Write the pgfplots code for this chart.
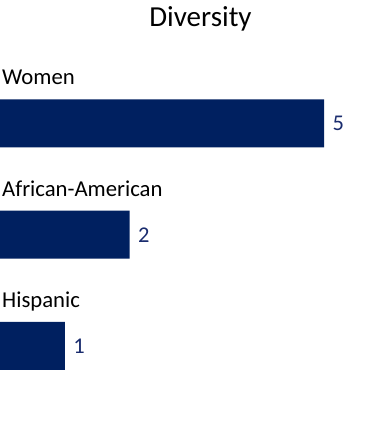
\documentclass[border=0pt]{standalone}
\usepackage{pgfplots}
\pgfplotsset{compat=1.18}
\usepackage{fontspec}
\setmainfont{Carlito}
\definecolor{navy}{RGB}{0,32,96}
\definecolor{vallab}{RGB}{26,44,110}
\begin{document}
\begin{tikzpicture}
\useasboundingbox[fill=white] (0pt,0pt) rectangle (390pt,-434pt);
\node[anchor=base, font=\fontsize{29}{33}\selectfont] at (200.5pt,-26pt) {Diversity};
\begin{axis}[
  at={(0pt,-401.6pt)}, anchor=south west,
  scale only axis, width=388.8pt, height=333.75pt,
  xmin=0, xmax=6, ymin=0.5, ymax=3.5,
  axis lines=none, ticks=none,
  xbar, bar width=48pt, bar shift=0pt,
  /pgf/number format/assume math mode=true,
  nodes near coords,
  every node near coord/.append style={anchor=west, xshift=5pt, text=vallab, font=\fontsize{22.5}{26}\selectfont},
  clip=false,
]
\addplot[fill=navy, draw=none] coordinates {(5,3) (2,2) (1,1)};
\node[anchor=base west, font=\fontsize{22.7}{26}\selectfont, inner sep=0pt] at (axis cs:0,3) [xshift=2pt, yshift=38.5pt] {Women};
\node[anchor=base west, font=\fontsize{22.7}{26}\selectfont, inner sep=0pt] at (axis cs:0,2) [xshift=2pt, yshift=38.5pt] {African-American};
\node[anchor=base west, font=\fontsize{22.7}{26}\selectfont, inner sep=0pt] at (axis cs:0,1) [xshift=2pt, yshift=38.5pt] {Hispanic};
\end{axis}
\end{tikzpicture}
\end{document}
